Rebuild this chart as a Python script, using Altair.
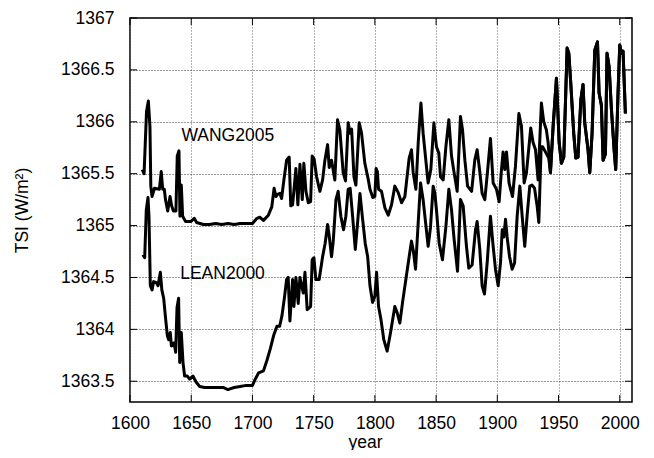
import altair as alt
import pandas as pd

# ---------------- data ----------------
wang_year = [1610, 1611.5, 1613.5, 1615, 1616.3, 1617, 1618, 1620, 1624, 1625.5, 1626.7, 1628, 1629,
             1630.8, 1632.7, 1634, 1635.5, 1637.5, 1638.6, 1640, 1640.8, 1641.9, 1643, 1645.4, 1649.8,
             1652.5, 1654.4, 1660, 1665, 1670, 1675, 1680, 1685, 1690, 1695, 1700, 1703.7, 1706, 1709,
             1713, 1715.8, 1717.7, 1719.2, 1720.5, 1722.5, 1723.8, 1725.7, 1727.9, 1730, 1731.3, 1732.8,
             1735.5, 1737.1, 1738.8, 1740.7, 1742, 1743.7, 1745.6, 1747.5, 1748.8, 1750.4, 1752.4, 1755.1,
             1757.3, 1759.2, 1761.4, 1762.7, 1764.6, 1767.3, 1769.5, 1771.4, 1774.1, 1776, 1778.2, 1779.6,
             1781, 1782.9, 1784.5, 1787.2, 1789.1, 1791.8, 1794.5, 1796, 1798.3, 1800, 1801, 1802, 1803,
             1805.4, 1808.2, 1810.9, 1813.6, 1816.3, 1819, 1821.8, 1824.5, 1828, 1829.9, 1831.3, 1833.5,
             1835.4, 1837.6, 1839.4, 1841.6, 1843.5, 1845.7, 1848.2, 1850.3, 1852.2, 1853.6, 1855.8, 1858,
             1860.4, 1862.6, 1864.7, 1867.2, 1869.9, 1871.6, 1873.5, 1875.7, 1879, 1881.6, 1883.5, 1885.7,
             1887.6, 1889.8, 1892, 1894.4, 1896.6, 1899.3, 1901.5, 1903.4, 1904.7, 1906.1, 1907.5, 1909.6,
             1912.4, 1914.8, 1917.6, 1919.7, 1921.9, 1923.8, 1927.3, 1929.2, 1931.2, 1933.3, 1936, 1937.9,
             1940.1, 1941.5, 1943.4]
wang_tsi = [1365.54, 1365.50, 1366.10, 1366.20, 1365.95, 1365.38, 1365.28, 1365.36, 1365.35, 1365.52,
            1365.35, 1365.35, 1365.25, 1365.14, 1365.28, 1365.19, 1365.14, 1365.14, 1365.67, 1365.72,
            1365.09, 1365.39, 1365.09, 1365.04, 1365.04, 1365.07, 1365.03, 1365.01, 1365.01, 1365.02,
            1365.01, 1365.02, 1365.01, 1365.02, 1365.02, 1365.02, 1365.07, 1365.08, 1365.05, 1365.10,
            1365.18, 1365.36, 1365.28, 1365.30, 1365.31, 1365.26, 1365.44, 1365.63, 1365.66, 1365.19,
            1365.20, 1365.55, 1365.20, 1365.59, 1365.25, 1365.60, 1365.33, 1365.22, 1365.23, 1365.67,
            1365.64, 1365.47, 1365.33, 1365.44, 1365.63, 1365.78, 1365.56, 1365.63, 1365.44, 1366.02,
            1365.92, 1365.51, 1365.43, 1365.99, 1365.89, 1365.93, 1365.47, 1365.39, 1365.99, 1365.89,
            1365.60, 1365.45, 1365.35, 1365.27, 1365.28, 1365.55, 1365.52, 1365.35, 1365.33, 1365.17,
            1365.10, 1365.20, 1365.38, 1365.32, 1365.22, 1365.28, 1365.65, 1365.73, 1365.51, 1365.35,
            1365.80, 1366.18, 1365.89, 1365.63, 1365.41, 1365.54, 1365.99, 1365.76, 1365.70, 1365.47,
            1365.44, 1365.76, 1366.02, 1365.67, 1365.51, 1365.33, 1366.05, 1365.92, 1365.63, 1365.38,
            1365.33, 1365.63, 1365.73, 1365.52, 1365.31, 1365.25, 1365.52, 1365.84, 1365.41, 1365.35,
            1365.23, 1365.54, 1365.71, 1365.54, 1365.71, 1365.41, 1365.28, 1365.57, 1366.08, 1365.96,
            1365.41, 1365.51, 1365.94, 1365.80, 1365.73, 1365.44, 1366.18, 1366.00, 1365.92, 1365.80,
            1365.51]

lean_year = [1610.5, 1612, 1613.3, 1614.7, 1615.5, 1616.6, 1618, 1619.3, 1621.5, 1622.9, 1624.8, 1626,
             1627.5, 1629.1, 1630.5, 1631.6, 1632.9, 1633.8, 1636, 1637.3, 1638.4, 1639.7, 1640.6, 1641.9,
             1643.3, 1644.6, 1646.8, 1648.7, 1651.4, 1654.1, 1656.9, 1661, 1670, 1676, 1680, 1685, 1690,
             1695, 1700, 1702.3, 1705, 1709, 1711.8, 1714.5, 1717.3, 1720, 1722.2, 1724.1, 1726.3, 1727.9,
             1729.2, 1730.6, 1732.8, 1733.9, 1735.5, 1737.4, 1738.8, 1741.5, 1742.9, 1744.7, 1747.5,
             1748.8, 1750.2, 1751.8, 1754.5, 1757.3, 1759.4, 1761.4, 1762.7, 1764.6, 1766, 1768.2, 1770,
             1772.2, 1774.4, 1776.3, 1778.2, 1779.8, 1781.8, 1784, 1785.9, 1787.8, 1790, 1792.1, 1794.1,
             1796, 1798.1, 1800, 1801.4, 1803, 1804.9, 1807.3, 1810, 1812.8, 1816.3, 1818.2, 1820.4,
             1822.6, 1825.3, 1828, 1829.9, 1831.5, 1833.2, 1835.4, 1837.3, 1839.4, 1841.4, 1843.5, 1845.4,
             1847.6, 1849, 1850.3, 1852.5, 1855.2, 1858, 1860.4, 1862.6, 1864.7, 1867.5, 1869.9, 1872.1,
             1874.8, 1876.7, 1879.4, 1882.2, 1883.5, 1885.7, 1887.6, 1889.5, 1891.7, 1894.4, 1896.6,
             1898.5, 1900.7, 1902.6, 1904, 1905.3, 1906.7, 1908, 1910, 1912.1, 1914.1, 1916.2, 1918.4,
             1920.3, 1922.4, 1924.3, 1926.5, 1928.4, 1930.4, 1932.5, 1933.9, 1935.8, 1937, 1939.3, 1942,
             1943.4]
lean_tsi = [1364.72, 1364.69, 1365.15, 1365.27, 1365.09, 1364.42, 1364.38, 1364.46, 1364.45, 1364.42,
            1364.55, 1364.38, 1364.30, 1364.10, 1363.94, 1363.90, 1363.97, 1363.84, 1363.87, 1363.78,
            1364.21, 1364.30, 1363.68, 1363.97, 1363.68, 1363.55, 1363.55, 1363.52, 1363.55, 1363.49,
            1363.45, 1363.44, 1363.44, 1363.44, 1363.42, 1363.44, 1363.45, 1363.46, 1363.46, 1363.52,
            1363.58, 1363.60, 1363.70, 1363.81, 1363.94, 1364.03, 1364.03, 1364.13, 1364.32, 1364.48,
            1364.50, 1364.08, 1364.48, 1364.22, 1364.50, 1364.25, 1364.50, 1364.35, 1364.55, 1364.19,
            1364.22, 1364.67, 1364.69, 1364.48, 1364.48, 1364.70, 1364.83, 1365.01, 1364.90, 1364.70,
            1364.85, 1365.25, 1365.33, 1365.09, 1364.96, 1365.09, 1365.35, 1365.36, 1365.09, 1364.77,
            1365.03, 1365.31, 1365.06, 1364.83, 1364.70, 1364.42, 1364.26, 1364.32, 1364.55, 1364.22,
            1364.10, 1363.90, 1363.79, 1363.97, 1364.22, 1364.16, 1364.06, 1364.26, 1364.48, 1364.70,
            1364.85, 1364.75, 1364.58, 1365.03, 1365.41, 1365.25, 1365.03, 1364.80, 1364.98, 1365.38,
            1365.31, 1365.15, 1364.83, 1364.67, 1364.99, 1365.35, 1365.15, 1364.87, 1364.56, 1365.25,
            1365.19, 1364.80, 1364.59, 1364.62, 1364.96, 1365.04, 1364.77, 1364.42, 1364.34, 1364.64,
            1365.09, 1364.80, 1364.58, 1364.42, 1364.64, 1364.96, 1364.89, 1365.06, 1364.89, 1364.70,
            1364.58, 1364.64, 1365.09, 1365.38, 1365.09, 1364.80, 1365.09, 1365.38, 1365.39, 1365.36,
            1365.19, 1365.03, 1365.76, 1365.76, 1365.71, 1365.65, 1365.51]

# after ~1944 both reconstructions coincide
shared_year = [1945.6, 1948.3, 1950.5, 1952.4, 1954.3, 1957, 1958.4, 1960, 1962.4, 1964.1, 1965.9,
               1968.2, 1970, 1971.4, 1974.1, 1975.5, 1977.4, 1979.6, 1981.8, 1983.1, 1985, 1986.4,
               1988.3, 1989.6, 1991.3, 1993.2, 1995.4, 1996.7, 1998.6, 2000, 2001.4, 2002.7, 2004.6]
shared_tsi = [1365.96, 1366.42, 1365.80, 1365.60, 1365.66, 1366.71, 1366.66, 1366.37, 1365.89, 1365.65,
              1365.66, 1366.21, 1366.36, 1365.99, 1365.73, 1365.51, 1365.89, 1366.69, 1366.77, 1366.28,
              1366.16, 1365.63, 1365.69, 1366.66, 1366.53, 1366.12, 1365.73, 1365.54, 1366.28, 1366.74,
              1366.66, 1366.68, 1366.08]

label_text = ["WANG2005", "LEAN2000"]
label_year = [1642, 1641]
label_tsi = [1365.86, 1364.53]

x_ticks = [1600, 1650, 1700, 1750, 1800, 1850, 1900, 1950, 2000]
y_ticks = [1363.5, 1364, 1364.5, 1365, 1365.5, 1366, 1366.5, 1367]

# ---------------- frames ----------------
df = pd.concat([
    pd.DataFrame({"year": wang_year + shared_year, "tsi": wang_tsi + shared_tsi, "series": "WANG2005"}),
    pd.DataFrame({"year": lean_year + shared_year, "tsi": lean_tsi + shared_tsi, "series": "LEAN2000"}),
])
labels = pd.DataFrame({"text": label_text, "year": label_year, "tsi": label_tsi})
xt = pd.DataFrame({"year": x_ticks})
yt = pd.DataFrame({"tsi": y_ticks})

W, H = 502, 384
FONT = "Liberation Sans"
FS = 17.5

xscale = alt.Scale(domain=[1600, 2010], nice=False, zero=False)
yscale = alt.Scale(domain=[1363.3, 1367], nice=False, zero=False)

xaxis = alt.Axis(values=x_ticks, labelExpr="datum.value", title="year", grid=True,
                 gridDash=[1, 2], gridColor="#666", gridWidth=1, tickSize=0, domain=False,
                 labelFlush=False, labelOverlap=False,
                 labelPadding=12, labelFontSize=FS, titleFontSize=FS,
                 titleX=235, titleY=40, titleBaseline="middle", titleAlign="center")
yaxis = alt.Axis(values=y_ticks, labelExpr="datum.value", title="TSI  (W/m²)", grid=True,
                 gridDash=[1, 2], gridColor="#333", gridWidth=1, tickSize=0, domain=False,
                 labelFlush=False, labelOverlap=False,
                 labelPadding=16, labelFontSize=FS, titleFontSize=FS,
                 titleX=-108, titleY=192, titleBaseline="middle", titleAlign="center", titleAngle=-90)

lines = alt.Chart(df).mark_line(color="black", strokeWidth=3, strokeJoin="round").encode(
    x=alt.X("year:Q", scale=xscale, axis=xaxis),
    y=alt.Y("tsi:Q", scale=yscale, axis=yaxis),
    detail="series:N",
    order="year:Q",
)

text = alt.Chart(labels).mark_text(align="left", baseline="middle", fontSize=17.5,
                                   font=FONT, color="black").encode(
    x=alt.X("year:Q", scale=xscale), y=alt.Y("tsi:Q", scale=yscale), text="text:N")

tick_len = 7
xb = alt.Chart(xt).mark_rule(color="black", strokeWidth=1).encode(
    x=alt.X("year:Q", scale=xscale), y=alt.value(H), y2=alt.value(H - tick_len))
xtp = alt.Chart(xt).mark_rule(color="black", strokeWidth=1).encode(
    x=alt.X("year:Q", scale=xscale), y=alt.value(0), y2=alt.value(tick_len))
yl = alt.Chart(yt).mark_rule(color="black", strokeWidth=1).encode(
    y=alt.Y("tsi:Q", scale=yscale), x=alt.value(0), x2=alt.value(tick_len))
yr = alt.Chart(yt).mark_rule(color="black", strokeWidth=1).encode(
    y=alt.Y("tsi:Q", scale=yscale), x=alt.value(W - tick_len), x2=alt.value(W))

chart = alt.layer(xb, xtp, yl, yr, lines, text).properties(
    width=W, height=H,
    autosize=alt.AutoSizeParams(type="none"),
    padding={"left": 122, "top": 10, "right": 14, "bottom": 48},
).configure(font=FONT).configure_view(
    stroke="black", strokeWidth=1.5
).configure_axis(
    labelColor="black", titleColor="black", titleFontWeight="normal", labelFont=FONT, titleFont=FONT
)

chart.save("out.html", embed_options={"renderer": "svg", "actions": False})
